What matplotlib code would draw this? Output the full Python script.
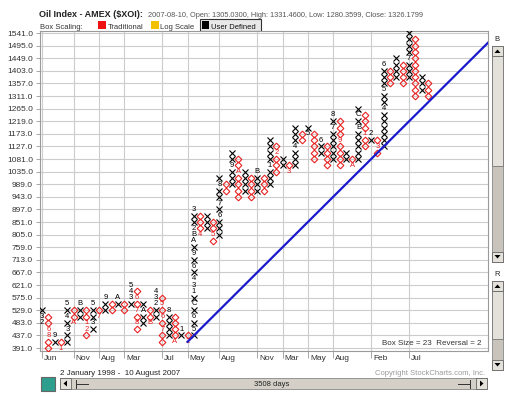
import matplotlib
matplotlib.use("Agg")
import matplotlib.pyplot as plt
from matplotlib.patches import Rectangle, Polygon

plt.rcParams['font.family'] = ['Liberation Sans', 'DejaVu Sans']

# point & figure settings
box_size = 23
base_price = 391.0
top_price = 1541.0

# columns alternate X, O, X, O ... (box index 0 = 391)
col_low = [4, 0, 1, 0, 1, 4, 5, 2, 3, 5, 6, 6, 7, 6, 7, 3, 4, 4, 5, 1,
           2, 1, 2, 1, 2, 18, 19, 17, 18, 25, 26, 24, 25, 24, 25, 25, 26, 28, 29, 28,
           29, 33, 34, 30, 31, 29, 30, 29, 30, 29, 30, 32, 33, 31, 32, 42, 43, 42, 43, 40,
           41, 40]
col_high = [6, 5, 2, 1, 7, 6, 7, 6, 7, 6, 8, 7, 8, 7, 10, 9, 7, 6, 9, 8,
            6, 5, 3, 2, 22, 21, 21, 20, 27, 26, 31, 30, 28, 27, 28, 27, 33, 32, 30, 29,
            35, 34, 35, 34, 33, 32, 37, 36, 31, 30, 38, 37, 34, 33, 45, 44, 46, 45, 50, 49,
            43, 42]

# month markers (1-9 = Jan-Sep, A-C = Oct-Dec)
marker_col = [0, 0, 1, 1, 2, 3, 4, 4, 4, 5, 6, 7, 7, 8, 8, 9, 10, 12,
              14, 14, 14, 15, 15, 15, 16, 17, 18, 18, 18, 19, 19, 19, 20, 21, 22, 23,
              24, 24, 24, 24, 24, 24, 24, 24, 24, 24, 24, 24,
              25, 27, 28, 28, 28, 30, 31, 34, 36, 37, 39, 40, 42, 44, 46, 46, 47, 49,
              50, 50, 51, 52, 53, 54, 54, 54, 58]
marker_box = [4, 5, 3, 2, 2, 0, 3, 5, 7, 4, 7, 4, 3, 4, 7, 5, 8, 8,
              8, 9, 10, 8, 6, 4, 6, 4, 7, 8, 9, 7, 5, 3, 6, 1, 3, 1,
              3, 5, 7, 9, 10, 11, 13, 15, 17, 18, 19, 22,
              18, 18, 21, 23, 26, 29, 28, 28, 29, 31, 28, 32, 34, 33, 35, 37, 33, 29,
              35, 37, 34, 34, 32, 38, 41, 45, 46]
marker_char = ['2', '3', '6', '8', '9', '1', '3', '4', '5', 'A', 'B', '1', '2', '3', '5', '7', '9', 'A',
               '3', '4', '5', '6', '7', '8', 'A', 'B', '2', '3', '4', '5', '6', '7', '8', 'A', '1', '2',
               '5', '6', 'C', '1', '3', '4', '6', '9', 'A', 'B', '2', '3',
               '4', '5', '6', '7', '8', '9', 'A', 'B', '1', '2', '3', '4', '5', '6', '7', '8', '9', 'A',
               'B', 'C', '1', '2', '3', '4', '5', '6', '7']

month_cols = [0, 5, 9, 13, 19, 23, 28, 34, 38, 42, 46, 52, 58]
month_labels = ['Jun', 'Nov', 'Aug', 'Mar', 'Jul', 'May', 'Aug', 'Nov',
                'Mar', 'May', 'Aug', 'Feb', 'Jul']

# 45 degree bullish support line
trend_col = 23
trend_box = 1

W, H = 516, 397
fig = plt.figure(figsize=(W / 100, H / 100), dpi=100)
fig.patch.set_facecolor('white')

ui = fig.add_axes([0, 0, 1, 1])
ui.set_xlim(0, W)
ui.set_ylim(H, 0)
ui.axis('off')

ax = fig.add_axes([40 / W, 1 - 351 / H, 448 / W, 320 / H])

red = '#e82020'

def price(b):
    return base_price + b * box_size

marks = {(c, b): ch for c, b, ch in zip(marker_col, marker_box, marker_char)}

xs_x, ys_x, xs_o, ys_o = [], [], [], []
for c, (lo, hi) in enumerate(zip(col_low, col_high)):
    is_x = (c % 2 == 0)
    for b in range(lo, hi + 1):
        if (c, b) in marks:
            ax.text(c, price(b), marks[(c, b)], ha='center', va='center',
                    fontsize=5.5, color='black' if is_x else red, zorder=4)
        elif is_x:
            xs_x.append(c)
            ys_x.append(price(b))
        else:
            xs_o.append(c)
            ys_o.append(price(b))

ax.plot(xs_x, ys_x, 'x', color='black', markersize=4.3, mew=0.8, zorder=3)
ax.plot(xs_o, ys_o, 'D', color=red, mfc='none', markersize=3.4, mew=0.8, zorder=3)

xmin, xmax = -0.32, 70.46
ax.plot([trend_col, xmax], [price(trend_box), price(trend_box + xmax - trend_col)],
        color='#1a1acc', linewidth=1.6, zorder=5)

ax.set_xlim(xmin, xmax)
ax.set_ylim(base_price - 0.47 * box_size, top_price + 0.32 * box_size)

yt = [base_price + 2 * box_size * i for i in range(26)]
ax.set_yticks(yt)
ax.set_yticklabels([f"{v:.1f}" for v in yt], fontsize=6, color='#333333')
ax.set_xticks(month_cols)
ax.set_xticklabels([])
ax.tick_params(axis='y', length=3, width=0.6, color='#999999', pad=2)
ax.tick_params(axis='x', length=5, width=0.6, color='#999999')
ax.grid(True, color='#cccccc', linewidth=0.8)
ax.set_axisbelow(True)
for s in ax.spines.values():
    s.set_color('#9a9a9a')
    s.set_linewidth(0.8)

for c, lab in zip(month_cols, month_labels):
    ax.annotate(lab, xy=(c, 0), xycoords=('data', 'axes fraction'),
                xytext=(1.5, -3), textcoords='offset points',
                ha='left', va='top', fontsize=6, color='#333333')

ax.text(0.985, 0.012, "Box Size = 23  Reversal = 2", transform=ax.transAxes,
        ha='right', va='bottom', fontsize=5.8, color='#333333')

# header
ui.text(39, 17, "Oil Index - AMEX ($XOI):", fontsize=6.5, fontweight='bold', color='#222222')
ui.text(148, 17, "2007-08-10, Open: 1305.0300, High: 1331.4600, Low: 1280.3599, Close: 1326.1799",
        fontsize=5.3, color='#555555')
ui.text(40, 29, "Box Scaling:", fontsize=5.5, color='#333333')
ui.add_patch(Rectangle((98, 21), 8, 8, fc='#ee1111', ec='none'))
ui.text(108, 29, "Traditional", fontsize=5.5, color='#333333')
ui.add_patch(Rectangle((151, 21), 8, 8, fc='#f2c200', ec='none'))
ui.text(160, 29, "Log Scale", fontsize=5.5, color='#333333')
ui.add_patch(Rectangle((200, 19), 61, 12, fc='#e8e8e8', ec='#333333', lw=0.8))
ui.add_patch(Rectangle((202, 21), 7, 8, fc='black', ec='none'))
ui.text(211, 29, "User Defined", fontsize=5.5, color='#111111')

# footer
ui.text(60, 375, "2 January 1998 -  10 August 2007", fontsize=5.8, color='#222222')
ui.text(485, 375, "Copyright StockCharts.com, Inc.", fontsize=5.5, color='#9a9a9a', ha='right')
ui.add_patch(Rectangle((41, 377), 14, 14, fc='#2e9e8e', ec='#666666', lw=0.8))
ui.add_patch(Rectangle((60, 378), 427, 11, fc='#d4d0c8', ec='#888888', lw=0.6))
ui.add_patch(Rectangle((60, 378), 11, 11, fc='#e4e1da', ec='#666666', lw=0.6))
ui.add_patch(Rectangle((476, 378), 11, 11, fc='#e4e1da', ec='#666666', lw=0.6))
ui.add_patch(Polygon([[67, 380.5], [67, 386.5], [63.5, 383.5]], fc='black'))
ui.add_patch(Polygon([[480, 380.5], [480, 386.5], [483.5, 383.5]], fc='black'))
ui.plot([76, 76], [379.5, 387.5], color='#333333', lw=0.7)
ui.plot([76, 88], [383.5, 383.5], color='#333333', lw=0.7)
ui.plot([470, 470], [379.5, 387.5], color='#333333', lw=0.7)
ui.plot([458, 470], [383.5, 383.5], color='#333333', lw=0.7)
ui.text(272, 386.5, "3508 days", fontsize=5.5, color='#222222', ha='center')

# right side scroll bars
ui.text(497, 41, "B", fontsize=5.5, color='#222222', ha='center')
ui.add_patch(Rectangle((492, 46), 11, 216, fc='#c8c4bc', ec='#888888', lw=0.6))
ui.add_patch(Rectangle((492, 56), 11, 110, fc='#e4e1da', ec='#777777', lw=0.6))
ui.add_patch(Rectangle((492, 46), 11, 10, fc='#e4e1da', ec='#666666', lw=0.6))
ui.add_patch(Rectangle((492, 252), 11, 10, fc='#e4e1da', ec='#666666', lw=0.6))
ui.add_patch(Polygon([[494.5, 53], [500.5, 53], [497.5, 49.5]], fc='black'))
ui.add_patch(Polygon([[494.5, 255], [500.5, 255], [497.5, 258.5]], fc='black'))
ui.text(497, 276, "R", fontsize=5.5, color='#222222', ha='center')
ui.add_patch(Rectangle((492, 281), 11, 89, fc='#c8c4bc', ec='#888888', lw=0.6))
ui.add_patch(Rectangle((492, 291), 11, 48, fc='#e4e1da', ec='#777777', lw=0.6))
ui.add_patch(Rectangle((492, 281), 11, 10, fc='#e4e1da', ec='#666666', lw=0.6))
ui.add_patch(Rectangle((492, 360), 11, 10, fc='#e4e1da', ec='#666666', lw=0.6))
ui.add_patch(Polygon([[494.5, 288], [500.5, 288], [497.5, 284.5]], fc='black'))
ui.add_patch(Polygon([[494.5, 363], [500.5, 363], [497.5, 366.5]], fc='black'))

fig.savefig("out.png", dpi=100)
